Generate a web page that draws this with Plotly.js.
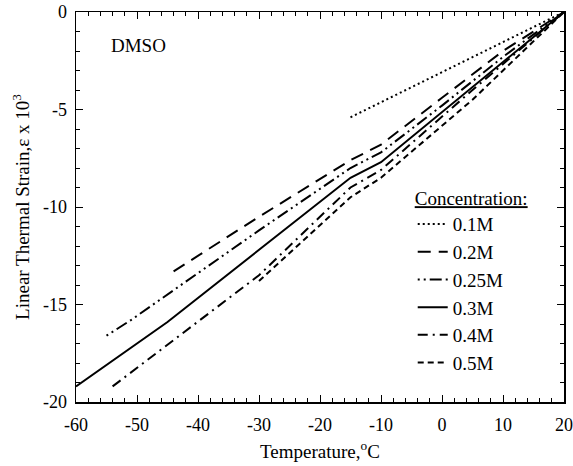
<!DOCTYPE html>
<html>
<head>
<meta charset="utf-8">
<script src="https://cdn.plot.ly/plotly-3.0.1.min.js"></script>
<style>html,body{margin:0;padding:0;background:#fff;}#chart{width:573px;height:466px;}</style>
</head>
<body>
<div id="chart"></div>
<script>
// Data (Temperature °C, strain x 10^3)
const names = ["0.1M", "0.2M", "0.25M", "0.3M", "0.4M", "0.5M"];
const x01 = [-15, -5, 5, 20];
const y01 = [-5.4, -3.85, -2.3, 0];
const x02 = [-44, -30, -15, -10, 0, 10, 20];
const y02 = [-13.3, -10.5, -7.6, -6.8, -4.4, -2.0, 0];
const x025 = [-55, -51, -30, -15, -10, 0, 10, 20];
const y025 = [-16.6, -15.8, -11.2, -8.0, -7.2, -4.8, -2.3, 0];
const x03 = [-60, -45, -15, -10, 20];
const y03 = [-19.2, -15.9, -8.5, -7.7, 0];
const x04 = [-54, -30, -15, -10, 5, 20];
const y04 = [-19.2, -13.5, -9.0, -8.1, -4.0, 0];
const x05 = [-30, -15, -10, 5, 20];
const y05 = [-13.8, -9.5, -8.5, -4.5, 0];

// Tick labels (hyphen-minus as in the reference)
const xTickVals = [-60, -50, -40, -30, -20, -10, 0, 10, 20];
const xTickText = ["-60", "-50", "-40", "-30", "-20", "-10", "0", "10", "20"];
const yTickVals = [-20, -15, -10, -5, 0];
const yTickText = ["-20", "-15", "-10", "-5", "0"];

const xs = [x01, x02, x025, x03, x04, x05];
const ys = [y01, y02, y025, y03, y04, y05];
const dashes = ["2px,3px", "13px,8px", "2px,4px,2px,4px,12px,4px", "solid", "10px,5px,2px,5px", "6px,4px"];
const widths = [2, 2, 2, 2, 2, 2];

const traces = names.map((n, i) => ({
  x: xs[i], y: ys[i], name: n, type: 'scatter', mode: 'lines',
  line: {color: '#000', width: widths[i], dash: dashes[i]}
}));

const fam = 'Liberation Serif, Times New Roman, serif';
const font = {family: fam, size: 19, color: '#000'};
const tickFont = {family: fam, size: 18, color: '#000'};
const axisCommon = {
  showline: true, linecolor: '#000', linewidth: 1.5, mirror: 'allticks',
  ticks: 'inside', ticklen: 7, tickwidth: 1, tickcolor: '#000',
  showgrid: false, zeroline: false, tickfont: tickFont, tickmode: 'array'
};

const layout = {
  width: 573, height: 466,
  margin: {l: 76, r: 9, t: 12, b: 64},
  paper_bgcolor: '#fff', plot_bgcolor: '#fff',
  font: font,
  showlegend: true,
  legend: {
    x: 0.69, y: 0.568, xanchor: 'left', yanchor: 'top',
    bgcolor: 'rgba(0,0,0,0)', font: font,
    title: {text: '<u>Concentration:</u>', font: font},
    itemwidth: 30, tracegroupgap: 0
  },
  xaxis: Object.assign({}, axisCommon, {
    range: [-60, 20], tickvals: xTickVals, ticktext: xTickText,
    ticklabelstandoff: 6,
    minor: {dtick: 2, tick0: 0, ticks: 'inside', ticklen: 4, tickcolor: '#000', showgrid: false},
    title: {text: 'Temperature,<sup>o</sup>C', font: font, standoff: 10}
  }),
  yaxis: Object.assign({}, axisCommon, {
    range: [-20, 0], tickvals: yTickVals, ticktext: yTickText,
    ticklabelstandoff: 4,
    minor: {dtick: 1, tick0: 0, ticks: 'inside', ticklen: 4, tickcolor: '#000', showgrid: false},
    title: {text: 'Linear Thermal Strain,ε x 10<sup>3</sup>', font: font, standoff: 8}
  }),
  annotations: [{
    text: 'DMSO', xref: 'paper', yref: 'paper', x: 0.068, y: 0.915,
    xanchor: 'left', yanchor: 'middle', showarrow: false, font: font
  }]
};

Plotly.newPlot('chart', traces, layout, {staticPlot: true, displayModeBar: false});
</script>
</body>
</html>
